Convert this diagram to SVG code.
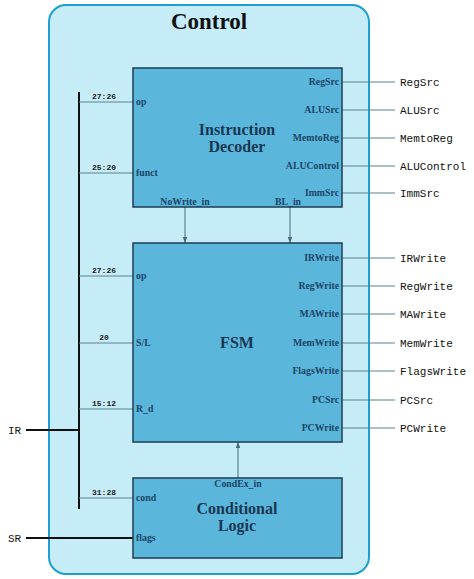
<svg xmlns="http://www.w3.org/2000/svg" width="474" height="579" viewBox="0 0 474 579">
<defs>
<marker id="arr" viewBox="0 0 6 6" refX="6" refY="3" markerWidth="6" markerHeight="6" orient="auto" markerUnits="userSpaceOnUse">
<path d="M0,0.8 L6,3 L0,5.2 z" fill="#3f6a7c"/>
</marker>
<style>
.outer{fill:#c5ecf7;stroke:#1c9fd3;stroke-width:2}
.box{fill:#5bb6dc;stroke:#1d3c52;stroke-width:1.5}
.title{font-family:"Liberation Serif",serif;font-weight:bold;fill:#111;font-size:23px;text-anchor:middle}
.btitle{font-family:"Liberation Serif",serif;font-weight:bold;fill:#173652;font-size:16px;text-anchor:middle}
.port{font-family:"Liberation Serif",serif;font-weight:bold;fill:#1b4466;font-size:9.8px}
.pr{text-anchor:end}
.pm{text-anchor:middle}
.bits{font-family:"Liberation Mono",monospace;font-weight:bold;fill:#222;font-size:8px;text-anchor:middle}
.sig{font-family:"Liberation Mono",monospace;fill:#111;font-size:11px}
.wire{stroke:#5a8292;stroke-width:1.2;fill:none}
.bus{stroke:#111;stroke-width:2;fill:none}
</style>
</defs>
<g id="control">
<rect class="outer" x="49" y="5" width="320" height="569" rx="17" ry="17"/>
<text class="title" x="209" y="29">Control</text>
</g>
<g id="connectors">
<line class="bus" x1="79" y1="92" x2="79" y2="509"/>
<line class="bus" x1="26" y1="430" x2="79" y2="430"/>
<line class="bus" x1="26" y1="538" x2="133" y2="538"/>
<line class="wire" x1="79" y1="102" x2="133" y2="102"/>
<line class="wire" x1="79" y1="173" x2="133" y2="173"/>
<line class="wire" x1="79" y1="276" x2="133" y2="276"/>
<line class="wire" x1="79" y1="343" x2="133" y2="343"/>
<line class="wire" x1="79" y1="409" x2="133" y2="409"/>
<line class="wire" x1="79" y1="498" x2="133" y2="498"/>
<line class="wire" x1="185" y1="207" x2="185" y2="243" marker-end="url(#arr)"/>
<line class="wire" x1="290" y1="207" x2="290" y2="243" marker-end="url(#arr)"/>
<line class="wire" x1="238" y1="478" x2="238" y2="442" marker-end="url(#arr)"/>
<line class="wire" x1="342" y1="82" x2="395" y2="82"/>
<line class="wire" x1="342" y1="110" x2="395" y2="110"/>
<line class="wire" x1="342" y1="138" x2="395" y2="138"/>
<line class="wire" x1="342" y1="166" x2="395" y2="166"/>
<line class="wire" x1="342" y1="193" x2="395" y2="193"/>
<line class="wire" x1="342" y1="258" x2="395" y2="258"/>
<line class="wire" x1="342" y1="286" x2="395" y2="286"/>
<line class="wire" x1="342" y1="314" x2="395" y2="314"/>
<line class="wire" x1="342" y1="343" x2="395" y2="343"/>
<line class="wire" x1="342" y1="371" x2="395" y2="371"/>
<line class="wire" x1="342" y1="400" x2="395" y2="400"/>
<line class="wire" x1="342" y1="428" x2="395" y2="428"/>
<text class="bits" x="104" y="99">27:26</text>
<text class="bits" x="104" y="170">25:20</text>
<text class="bits" x="104" y="273">27:26</text>
<text class="bits" x="104" y="340">20</text>
<text class="bits" x="104" y="406">15:12</text>
<text class="bits" x="104" y="495">31:28</text>
<text class="sig" x="8" y="434">IR</text>
<text class="sig" x="8" y="542">SR</text>
<text class="sig" x="400" y="86">RegSrc</text>
<text class="sig" x="400" y="114">ALUSrc</text>
<text class="sig" x="400" y="142">MemtoReg</text>
<text class="sig" x="400" y="170">ALUControl</text>
<text class="sig" x="400" y="197">ImmSrc</text>
<text class="sig" x="400" y="262">IRWrite</text>
<text class="sig" x="400" y="290">RegWrite</text>
<text class="sig" x="400" y="318">MAWrite</text>
<text class="sig" x="400" y="347">MemWrite</text>
<text class="sig" x="400" y="375">FlagsWrite</text>
<text class="sig" x="400" y="404">PCSrc</text>
<text class="sig" x="400" y="432">PCWrite</text>
</g>
<g id="decoder">
<rect class="box" x="133" y="68" width="209" height="139"/>
<text class="btitle" x="237" y="135">Instruction</text>
<text class="btitle" x="237" y="152">Decoder</text>
<text class="port" x="136" y="105">op</text>
<text class="port" x="136" y="176">funct</text>
<text class="port pr" x="339" y="85">RegSrc</text>
<text class="port pr" x="339" y="113">ALUSrc</text>
<text class="port pr" x="339" y="141">MemtoReg</text>
<text class="port pr" x="339" y="169">ALUControl</text>
<text class="port pr" x="339" y="196">ImmSrc</text>
<text class="port pm" x="185" y="205">NoWrite_in</text>
<text class="port pm" x="288" y="205">BL_in</text>
</g>
<g id="fsm">
<rect class="box" x="133" y="243" width="209" height="199"/>
<text class="btitle" x="237" y="348">FSM</text>
<text class="port" x="136" y="279">op</text>
<text class="port" x="136" y="346">S/L</text>
<text class="port" x="136" y="412">R_d</text>
<text class="port pr" x="339" y="261">IRWrite</text>
<text class="port pr" x="339" y="289">RegWrite</text>
<text class="port pr" x="339" y="317">MAWrite</text>
<text class="port pr" x="339" y="346">MemWrite</text>
<text class="port pr" x="339" y="374">FlagsWrite</text>
<text class="port pr" x="339" y="403">PCSrc</text>
<text class="port pr" x="339" y="431">PCWrite</text>
</g>
<g id="condlogic">
<rect class="box" x="133" y="478" width="209" height="80"/>
<text class="btitle" x="237" y="514">Conditional</text>
<text class="btitle" x="237" y="531">Logic</text>
<text class="port pm" x="238" y="487">CondEx_in</text>
<text class="port" x="136" y="501">cond</text>
<text class="port" x="136" y="541">flags</text>
</g>
</svg>
